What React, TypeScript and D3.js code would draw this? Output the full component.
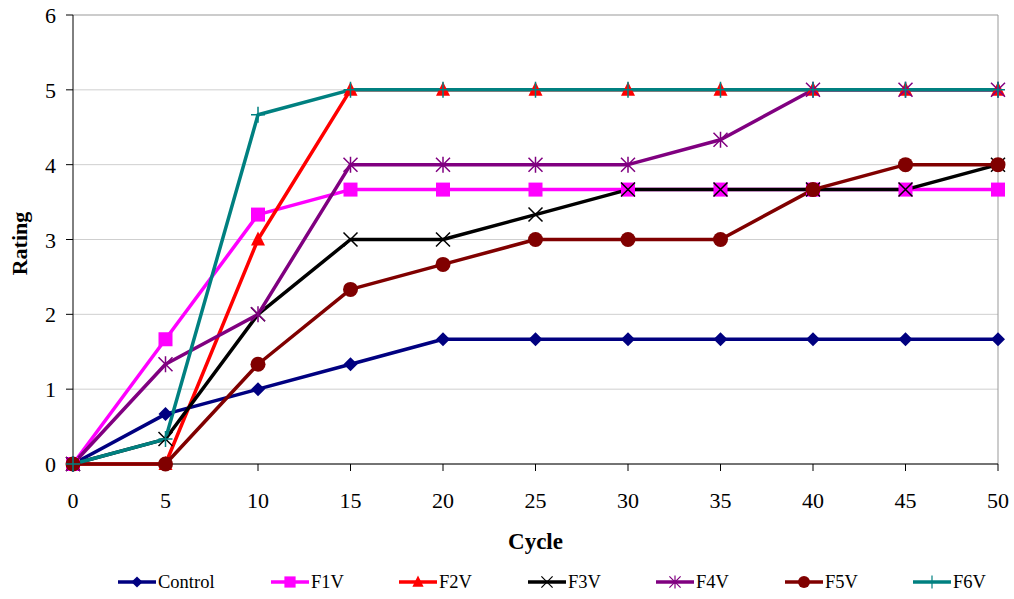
import React from "react";
import * as d3 from "d3";

const cycles = [0, 5, 10, 15, 20, 25, 30, 35, 40, 45, 50];
const control = [0, 0.667, 1, 1.333, 1.667, 1.667, 1.667, 1.667, 1.667, 1.667, 1.667];
const f1v = [0, 1.667, 3.333, 3.667, 3.667, 3.667, 3.667, 3.667, 3.667, 3.667, 3.667];
const f2v = [0, 0, 3, 5, 5, 5, 5, 5, 5, 5, 5];
const f3v = [0, 0.333, 2, 3, 3, 3.333, 3.667, 3.667, 3.667, 3.667, 4];
const f4v = [0, 1.333, 2, 4, 4, 4, 4, 4.333, 5, 5, 5];
const f5v = [0, 0, 1.333, 2.333, 2.667, 3, 3, 3, 3.667, 4, 4];
const f6v = [0, 0.333, 4.667, 5, 5, 5, 5, 5, 5, 5, 5];
const yTicks = [0, 1, 2, 3, 4, 5, 6];

type Marker = "diamond" | "square" | "triangle" | "x" | "star" | "circle" | "plus";
const series: { name: string; values: number[]; color: string; marker: Marker }[] = [
  { name: "Control", values: control, color: "#000080", marker: "diamond" },
  { name: "F1V", values: f1v, color: "#ff00ff", marker: "square" },
  { name: "F2V", values: f2v, color: "#ff0000", marker: "triangle" },
  { name: "F3V", values: f3v, color: "#000000", marker: "x" },
  { name: "F4V", values: f4v, color: "#800080", marker: "star" },
  { name: "F5V", values: f5v, color: "#800000", marker: "circle" },
  { name: "F6V", values: f6v, color: "#008080", marker: "plus" },
];

const W = 1014;
const H = 599;
const left = 73;
const right = 998;
const top = 15;
const bottom = 464;
const FONT = "'Liberation Serif', 'Times New Roman', serif";

const x = d3.scaleLinear().domain([0, 50]).range([left, right]);
const y = d3.scaleLinear().domain([0, 6]).range([bottom, top]);

function MarkerShape({ kind, cx, cy, color }: { kind: Marker; cx: number; cy: number; color: string }) {
  switch (kind) {
    case "diamond":
      return <path d={`M${cx},${cy - 7}L${cx + 7},${cy}L${cx},${cy + 7}L${cx - 7},${cy}Z`} fill={color} />;
    case "square":
      return <rect x={cx - 7} y={cy - 7} width={14} height={14} fill={color} />;
    case "triangle":
      return <path d={`M${cx},${cy - 8}L${cx + 7},${cy + 6}L${cx - 7},${cy + 6}Z`} fill={color} />;
    case "x":
      return (
        <path d={`M${cx - 7},${cy - 7}L${cx + 7},${cy + 7}M${cx - 7},${cy + 7}L${cx + 7},${cy - 7}`} stroke={color} strokeWidth={1.5} />
      );
    case "star":
      return (
        <path
          d={`M${cx - 7},${cy - 7}L${cx + 7},${cy + 7}M${cx - 7},${cy + 7}L${cx + 7},${cy - 7}M${cx},${cy - 8}L${cx},${cy + 8}`}
          stroke={color}
          strokeWidth={1.5}
        />
      );
    case "circle":
      return <circle cx={cx} cy={cy} r={7.5} fill={color} />;
    case "plus":
      return <path d={`M${cx - 7},${cy}L${cx + 7},${cy}M${cx},${cy - 8}L${cx},${cy + 8}`} stroke={color} strokeWidth={1.5} />;
  }
}

export default function App() {
  const line = d3
    .line<number>()
    .x((_, i) => x(cycles[i]))
    .y((d) => y(d));

  const legendX = [118, 271, 399, 528, 656, 785, 913];
  const legendY = 582;
  const legendLen = 38;

  return (
    <svg width={W} height={H} style={{ position: "absolute", left: 0, top: 0, background: "#fff", fontFamily: FONT }}>
      {/* gridlines */}
      {yTicks.map((t) => (
        <line key={t} x1={left} x2={right} y1={y(t)} y2={y(t)} stroke={t === 6 ? "#999" : "#cfcfcf"} strokeWidth={1} />
      ))}
      <line x1={right} x2={right} y1={top} y2={bottom} stroke="#999" strokeWidth={1} />

      {/* axes */}
      <line x1={left} x2={left} y1={top} y2={bottom} stroke="#000" strokeWidth={1} />
      <line x1={left} x2={right} y1={bottom} y2={bottom} stroke="#000" strokeWidth={1} />
      {yTicks.map((t) => (
        <g key={t}>
          <line x1={left - 7} x2={left} y1={y(t)} y2={y(t)} stroke="#000" />
          <text x={left - 17} y={y(t) + 8} fontSize={22} textAnchor="end">
            {t}
          </text>
        </g>
      ))}
      {cycles.map((c) => (
        <g key={c}>
          <line x1={x(c)} x2={x(c)} y1={bottom} y2={bottom + 7} stroke="#000" />
          <text x={x(c)} y={508} fontSize={22} textAnchor="middle">
            {c}
          </text>
        </g>
      ))}
      <text x={(left + right) / 2} y={549} fontSize={23} fontWeight="bold" textAnchor="middle">
        Cycle
      </text>
      <text transform={`translate(27,${(top + bottom) / 2 + 4}) rotate(-90)`} fontSize={22} fontWeight="bold" textAnchor="middle">
        Rating
      </text>

      {/* series lines */}
      {series.map((s) => (
        <path key={s.name} d={line(s.values) || ""} fill="none" stroke={s.color} strokeWidth={3.5} strokeLinejoin="round" />
      ))}
      {/* series markers */}
      {series.map((s) => (
        <g key={s.name}>
          {s.values.map((v, i) => (
            <MarkerShape key={i} kind={s.marker} cx={x(cycles[i])} cy={y(v)} color={s.color} />
          ))}
        </g>
      ))}

      {/* legend */}
      {series.map((s, i) => {
        const mx = legendX[i] + legendLen / 2;
        return (
          <g key={s.name}>
            <line x1={legendX[i]} x2={legendX[i] + legendLen} y1={legendY} y2={legendY} stroke={s.color} strokeWidth={3.5} />
            <g transform={`translate(${mx},${legendY}) scale(0.8) translate(${-mx},${-legendY})`}>
              <MarkerShape kind={s.marker} cx={mx} cy={legendY} color={s.color} />
            </g>
            <text x={legendX[i] + legendLen + 2} y={legendY + 6} fontSize={18.5}>
              {s.name}
            </text>
          </g>
        );
      })}
    </svg>
  );
}
